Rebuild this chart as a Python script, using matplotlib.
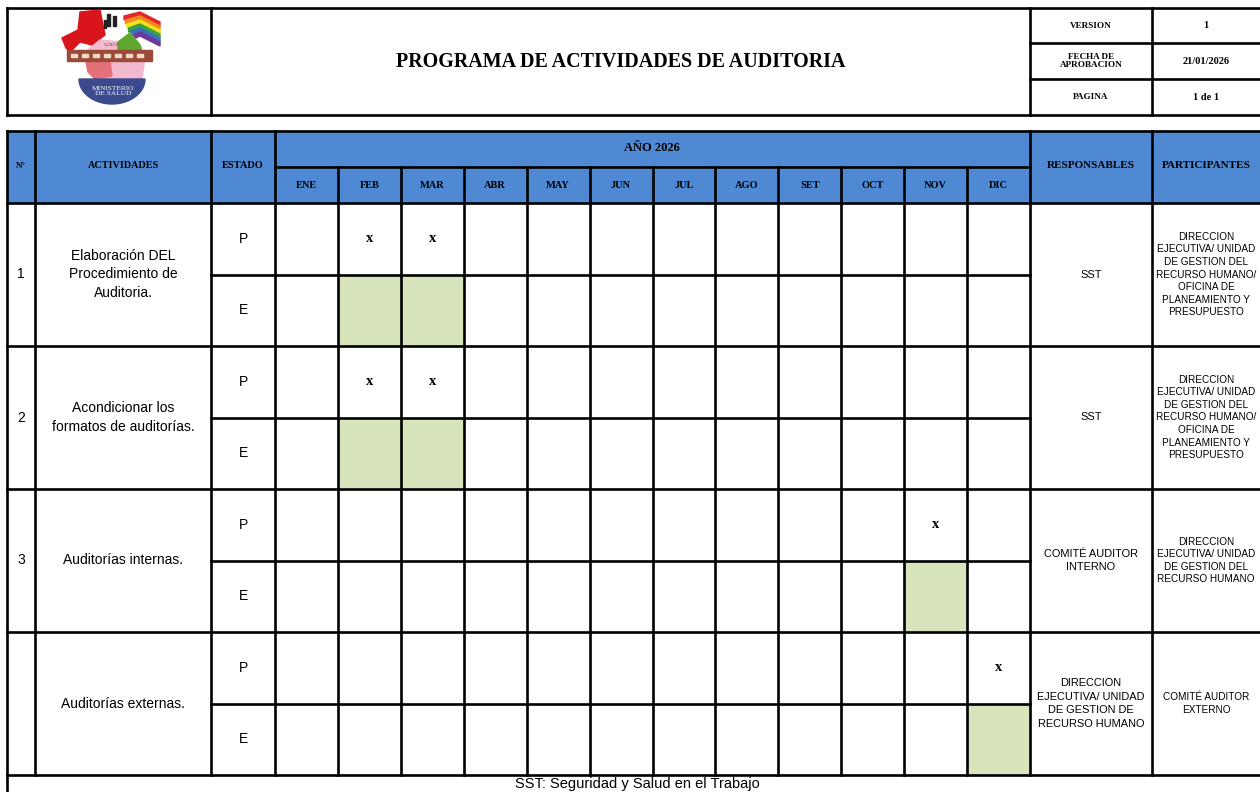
import matplotlib
matplotlib.use('Agg')
import numpy as np
import matplotlib.pyplot as plt
from matplotlib.patches import Rectangle, Polygon

# datos del programa
meses = ['ENE', 'FEB', 'MAR', 'ABR', 'MAY', 'JUN', 'JUL', 'AGO', 'SET', 'OCT', 'NOV', 'DIC']
numeros = ['1', '2', '3', '']
actividades = ['Elaboración DEL\nProcedimiento de\nAuditoria.',
               'Acondicionar los\nformatos de auditorías.',
               'Auditorías internas.',
               'Auditorías externas.']
estados = ['P', 'E']
programado = [[1, 2], [1, 2], [10], [11]]   # meses marcados con x
ejecutado = [[1, 2], [1, 2], [10], [11]]    # meses en verde
responsables = ['SST', 'SST', 'COMITÉ AUDITOR\nINTERNO',
                'DIRECCION\nEJECUTIVA/ UNIDAD\nDE GESTION DE\nRECURSO HUMANO']
participantes = ['DIRECCION\nEJECUTIVA/ UNIDAD\nDE GESTION DEL\nRECURSO HUMANO/\nOFICINA DE\nPLANEAMIENTO Y\nPRESUPUESTO',
                 'DIRECCION\nEJECUTIVA/ UNIDAD\nDE GESTION DEL\nRECURSO HUMANO/\nOFICINA DE\nPLANEAMIENTO Y\nPRESUPUESTO',
                 'DIRECCION\nEJECUTIVA/ UNIDAD\nDE GESTION DEL\nRECURSO HUMANO',
                 'COMITÉ AUDITOR\nEXTERNO']
info_labels = ['VERSION', 'FECHA DE\nAPROBACION', 'PAGINA']
info_values = ['1', '21/01/2026', '1 de 1']
titulo = 'PROGRAMA DE ACTIVIDADES DE AUDITORIA'
anio = 'AÑO 2026'
nota = 'SST: Seguridad y Salud en el Trabajo'

BLUE = '#5089d3'
GREEN = '#d8e4bc'
LW = 1.9
SERIF = 'Liberation Serif'
SANS = 'Liberation Sans'

fig = plt.figure(figsize=(12.6, 7.92), dpi=100)
ax = fig.add_axes([0, 0, 1, 1])
ax.set_xlim(0, 1260)
ax.set_ylim(792, 0)
ax.axis('off')


def hline(y, x0, x1, lw=LW):
    ax.plot([x0, x1], [y, y], color='black', lw=lw, solid_capstyle='projecting')


def vline(x, y0, y1, lw=LW):
    ax.plot([x, x], [y0, y1], color='black', lw=lw, solid_capstyle='projecting')


# ---------- encabezado ----------
L, R = 7, 1265
htop, hbot = 8, 115
hrows = [8, 43, 79, 115]
hline(htop, L, R)
hline(hbot, L, R)
for x in [L, 211, 1030, 1152]:
    vline(x, htop, hbot)
for y in hrows[1:-1]:
    hline(y, 1030, R)

ax.text(621, 62, titulo, ha='center', va='center', fontsize=14.4,
        fontweight='bold', family=SERIF)
for i in range(3):
    yc = (hrows[i] + hrows[i + 1]) / 2
    ax.text(1091, yc, info_labels[i], ha='center', va='center', fontsize=6.6,
            fontweight='bold', family=SERIF, linespacing=1.1)
    ax.text(1206, yc, info_values[i], ha='center', va='center', fontsize=7.5,
            fontweight='bold', family=SERIF)

# logo aproximado
ax.add_patch(Polygon([[62, 38], [78, 30], [80, 12], [100, 10], [105, 35],
                      [92, 45], [80, 42], [70, 52], [66, 48]],
                     closed=True, color='#d9141b', zorder=2))
stripes = ['#e4262a', '#f08a1d', '#f4e21f', '#3aa040', '#3a6fc4', '#6b3a96']
for k, c in enumerate(stripes):
    ax.add_patch(Polygon([[124 + k * 1.5, 16 + k * 4], [140, 12 + k * 4], [160, 22 + k * 4],
                          [160, 26 + k * 4], [140, 16 + k * 4], [124 + k * 1.5, 20 + k * 4]],
                         closed=True, color=c, zorder=2))
ax.add_patch(Polygon([[88, 50], [100, 40], [120, 42], [130, 33], [140, 45], [145, 58],
                      [142, 78], [120, 82], [95, 80], [88, 70]],
                     closed=True, color='#f3b9cf', zorder=2))
ax.add_patch(Polygon([[118, 42], [130, 33], [140, 45], [142, 52], [118, 52]],
                     closed=True, color='#5ea82f', zorder=2))
ax.add_patch(Polygon([[86, 62], [110, 62], [112, 76], [95, 79], [88, 72]],
                     closed=True, color='#e6707a', zorder=2))
ax.add_patch(Rectangle((67, 50), 85, 11, color='#9b4a3a', zorder=3))
for k in range(7):
    ax.add_patch(Rectangle((71 + k * 11, 54), 6, 3, color='#f2d9c4', zorder=4))
ax.add_patch(Rectangle((107, 14), 3, 12, color='#222222', zorder=3))
ax.add_patch(Rectangle((113, 16), 3, 10, color='#222222', zorder=3))
ax.add_patch(Rectangle((104, 20), 2, 8, color='#222222', zorder=3))
ax.text(112, 45, 'CUSCO', ha='center', va='center', fontsize=3.5, color='#7a2a2a',
        family=SERIF, zorder=5)
t = np.linspace(0, np.pi, 40)
semi = np.column_stack([112 + 33 * np.cos(t), 79 + 25 * np.sin(t)])
ax.add_patch(Polygon(semi, closed=True, color='#3b4a8c', zorder=3))
ax.text(113, 91, 'MINISTERIO\nDE SALUD', ha='center', va='center', fontsize=5.3,
        color='white', family=SERIF, linespacing=1.0, zorder=5)

# ---------- tabla ----------
ttop, tmid, tbot = 131, 167, 203
col_x = [L, 35, 211, 275]
mes_w = (1030 - 275) / len(meses)
mes_x = [275 + i * mes_w for i in range(len(meses) + 1)]
resp_x, part_x = 1030, 1152
row_h = 143
row_y = [tbot + i * row_h for i in range(len(actividades) + 1)]

ax.add_patch(Rectangle((L, ttop), R - L, tbot - ttop, color=BLUE, zorder=0))

# celdas verdes (ejecutado)
for r, meses_e in enumerate(ejecutado):
    ymid = row_y[r] + row_h / 2
    for m in meses_e:
        ax.add_patch(Rectangle((mes_x[m], ymid), mes_w, row_h / 2, color=GREEN, zorder=0))

# lineas encabezado
hline(ttop, L, R)
hline(tbot, L, R)
hline(tmid, 275, 1030)
for x in col_x + [resp_x, part_x]:
    vline(x, ttop, row_y[-1])
for x in mes_x[1:-1]:
    vline(x, tmid, row_y[-1])

hdr_kw = dict(ha='center', va='center', fontweight='bold', family=SERIF)
ax.text(21, 166, 'N°', fontsize=6.5, **hdr_kw)
ax.text(123, 166, 'ACTIVIDADES', fontsize=7.3, **hdr_kw)
ax.text(243, 166, 'ESTADO', fontsize=7.5, **hdr_kw)
ax.text(652, 148, anio, fontsize=9, **hdr_kw)
ax.text(1091, 166, 'RESPONSABLES', fontsize=8, **hdr_kw)
ax.text(1206, 166, 'PARTICIPANTES', fontsize=8, **hdr_kw)
for i, mes in enumerate(meses):
    ax.text((mes_x[i] + mes_x[i + 1]) / 2, 185, mes, fontsize=7.5, **hdr_kw)

# filas
for r in range(len(actividades)):
    y0, y1 = row_y[r], row_y[r + 1]
    ymid = (y0 + y1) / 2
    hline(y1, L, R)
    hline(ymid, 211, 1030)
    ax.text(21, ymid, numeros[r], ha='center', va='center', fontsize=10, family=SANS)
    ax.text(123, ymid, actividades[r], ha='center', va='center', fontsize=10,
            family=SANS, linespacing=1.4)
    for k, est in enumerate(estados):
        ax.text(243, y0 + row_h / 4 + k * row_h / 2, est, ha='center', va='center',
                fontsize=10, family=SANS)
    for m in programado[r]:
        ax.text((mes_x[m] + mes_x[m + 1]) / 2, y0 + row_h / 4, 'x', ha='center',
                va='center', fontsize=10.5, fontweight='bold', family=SERIF)
    ax.text(1091, ymid, responsables[r], ha='center', va='center', fontsize=7.9,
            family=SANS, linespacing=1.45)
    ax.text(1206, ymid, participantes[r], ha='center', va='center', fontsize=7.2,
            family=SANS, linespacing=1.33)

# pie
vline(L, row_y[-1], 800)
ax.text(637, 784, nota, ha='center', va='center', fontsize=10.5, family=SANS)

fig.savefig('out.png', dpi=100)
